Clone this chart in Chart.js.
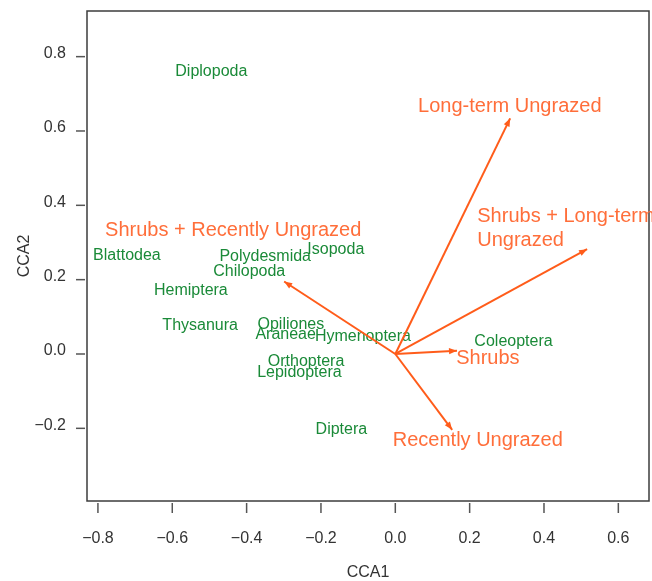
<!DOCTYPE html>
<html>
<head>
<meta charset="utf-8">
<script src="https://cdn.jsdelivr.net/npm/chart.js@4/dist/chart.umd.min.js"></script>
<style>
  html, body { margin: 0; padding: 0; background: #ffffff; }
  #wrap { width: 652px; height: 581px; }
</style>
</head>
<body>
<div id="wrap"><canvas id="c" width="652" height="581"></canvas></div>
<script>
// Species scores (CCA1, CCA2)
const speciesNames = ['Diplopoda', 'Blattodea', 'Polydesmida', 'Isopoda', 'Chilopoda', 'Hemiptera',
  'Thysanura', 'Opiliones', 'Araneae', 'Hymenoptera', 'Orthoptera', 'Lepidoptera', 'Diptera', 'Coleoptera'];
const speciesCCA1 = [-0.495, -0.722, -0.350, -0.160, -0.393, -0.550,
  -0.525, -0.281, -0.295, -0.087, -0.240, -0.258, -0.145, 0.318];
const speciesCCA2 = [0.759, 0.264, 0.262, 0.282, 0.221, 0.170,
  0.076, 0.078, 0.051, 0.048, -0.021, -0.049, -0.204, 0.033];

// Environmental vectors: arrow tips and label anchors
const envNames = ['Long-term Ungrazed', 'Shrubs + Long-term\nUngrazed', 'Shrubs + Recently Ungrazed',
  'Shrubs', 'Recently Ungrazed'];
const envCCA1 = [0.309, 0.516, -0.299, 0.166, 0.153];
const envCCA2 = [0.634, 0.282, 0.195, 0.009, -0.204];
const envLabelCCA1 = [0.308, 0.459, -0.436, 0.249, 0.222];
const envLabelCCA2 = [0.665, 0.338, 0.331, -0.013, -0.234];

// Axis ticks
const xTicks = [-0.8, -0.6, -0.4, -0.2, 0.0, 0.2, 0.4, 0.6];
const yTicks = [-0.2, 0.0, 0.2, 0.4, 0.6, 0.8];

const GREEN = '#1a8a38';
const ORANGE_LINE = '#ff5c1a';
const ORANGE_TEXT = '#ff6e3a';
const AXIS_GREY = '#333333';
const FONT = '"Liberation Sans", Arial, Helvetica, sans-serif';

const fmtTick = v => v.toFixed(1).replace('-', '\u2212');

const datasets = [];
datasets.push({
  label: 'species',
  data: speciesNames.map((n, i) => ({ x: speciesCCA1[i], y: speciesCCA2[i] })),
  pointRadius: 0,
  showLine: false
});
envNames.forEach((n, i) => {
  datasets.push({
    label: n,
    data: [{ x: 0, y: 0 }, { x: envCCA1[i], y: envCCA2[i] }],
    showLine: true,
    borderColor: ORANGE_LINE,
    borderWidth: 2,
    pointRadius: 0,
    fill: false
  });
});
datasets.push({
  label: 'envLabels',
  data: envNames.map((n, i) => ({ x: envLabelCCA1[i], y: envLabelCCA2[i] })),
  pointRadius: 0,
  showLine: false
});
const ARROW_START = 1;
const LABEL_SET = 1 + envNames.length;

const biplotPlugin = {
  id: 'biplot',
  beforeDatasetsDraw(chart) {
    const ctx = chart.ctx;
    const meta = chart.getDatasetMeta(0);
    ctx.save();
    ctx.font = '16px ' + FONT;
    ctx.fillStyle = GREEN;
    ctx.textAlign = 'center';
    ctx.textBaseline = 'middle';
    meta.data.forEach((pt, i) => ctx.fillText(speciesNames[i], pt.x, pt.y));
    ctx.restore();
  },
  afterDatasetsDraw(chart) {
    const ctx = chart.ctx;
    const a = chart.chartArea;
    const xs = chart.scales.x, ys = chart.scales.y;
    ctx.save();
    // plot frame
    ctx.strokeStyle = '#3c3c3c';
    ctx.lineWidth = 1.5;
    ctx.strokeRect(a.left, a.top, a.right - a.left, a.bottom - a.top);
    // tick marks, set slightly off the frame
    ctx.strokeStyle = '#555555';
    ctx.lineWidth = 1.5;
    xTicks.forEach(v => {
      const px = xs.getPixelForValue(v);
      ctx.beginPath(); ctx.moveTo(px, a.bottom + 2); ctx.lineTo(px, a.bottom + 12); ctx.stroke();
    });
    yTicks.forEach(v => {
      const py = ys.getPixelForValue(v);
      ctx.beginPath(); ctx.moveTo(a.left - 2, py); ctx.lineTo(a.left - 11, py); ctx.stroke();
    });
    // arrow heads
    ctx.fillStyle = ORANGE_LINE;
    envNames.forEach((n, i) => {
      const m = chart.getDatasetMeta(ARROW_START + i);
      const p0 = m.data[0], p1 = m.data[1];
      const ang = Math.atan2(p1.y - p0.y, p1.x - p0.x);
      const len = 8, half = 3.2;
      ctx.beginPath();
      ctx.moveTo(p1.x, p1.y);
      ctx.lineTo(p1.x - len * Math.cos(ang) + half * Math.sin(ang), p1.y - len * Math.sin(ang) - half * Math.cos(ang));
      ctx.lineTo(p1.x - len * Math.cos(ang) - half * Math.sin(ang), p1.y - len * Math.sin(ang) + half * Math.cos(ang));
      ctx.closePath();
      ctx.fill();
    });
    // vector labels
    ctx.font = '20px ' + FONT;
    ctx.fillStyle = ORANGE_TEXT;
    ctx.textBaseline = 'middle';
    const lm = chart.getDatasetMeta(LABEL_SET);
    lm.data.forEach((pt, i) => {
      const lines = envNames[i].split('\n');
      if (lines.length === 1) {
        ctx.textAlign = 'center';
        ctx.fillText(lines[0], pt.x, pt.y);
      } else {
        const w = Math.max(...lines.map(l => ctx.measureText(l).width));
        const lh = 23.5;
        const top = pt.y - (lines.length - 1) * lh / 2;
        ctx.textAlign = 'left';
        lines.forEach((l, k) => ctx.fillText(l, pt.x - w / 2, top + k * lh));
      }
    });
    ctx.restore();
  }
};

new Chart(document.getElementById('c'), {
  type: 'scatter',
  data: { datasets },
  plugins: [biplotPlugin],
  options: {
    responsive: false,
    animation: false,
    devicePixelRatio: 1,
    layout: { padding: { left: 0, top: 11, right: 3, bottom: 0 } },
    plugins: { legend: { display: false }, tooltip: { enabled: false } },
    scales: {
      x: {
        type: 'linear',
        min: -0.8294, max: 0.6825,
        afterBuildTicks: s => { s.ticks = xTicks.map(v => ({ value: v })); },
        afterFit: s => { s.height = 80; s.paddingLeft = 0; s.paddingRight = 0; },
        grid: { display: false, drawTicks: false },
        border: { display: false },
        ticks: {
          padding: 28,
          color: AXIS_GREY,
          font: { family: FONT, size: 16 },
          callback: v => fmtTick(v)
        },
        title: {
          display: true, text: 'CCA1', color: AXIS_GREY,
          font: { family: FONT, size: 16, lineHeight: 1 },
          padding: { top: 0, bottom: 0 }
        }
      },
      y: {
        type: 'linear',
        min: -0.3955, max: 0.9228,
        afterBuildTicks: s => { s.ticks = yTicks.map(v => ({ value: v })); },
        afterFit: s => { s.width = 87; s.paddingTop = 0; s.paddingBottom = 0; },
        grid: { display: false, drawTicks: false },
        border: { display: false },
        ticks: {
          padding: 21,
          labelOffset: -3,
          color: AXIS_GREY,
          font: { family: FONT, size: 16 },
          callback: v => fmtTick(v)
        },
        title: {
          display: true, text: 'CCA2', color: AXIS_GREY,
          font: { family: FONT, size: 16, lineHeight: 1 },
          padding: { top: 17, bottom: 0 }
        }
      }
    }
  }
});
</script>
</body>
</html>
